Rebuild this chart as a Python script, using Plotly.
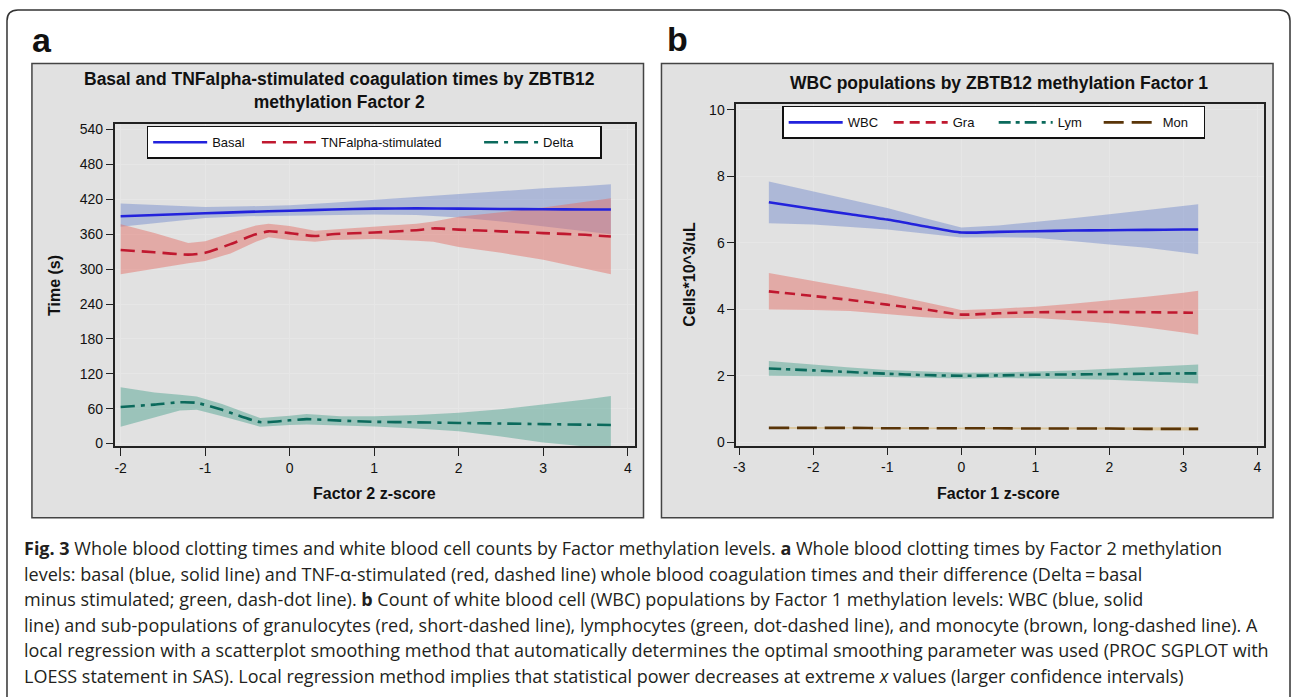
import plotly.graph_objects as go

W, H = 1292, 697

# ---------------- Panel a data (Factor 2 z-score) ----------------
x_basal = [-2.0, -1.5, -1.0, -0.5, 0.0, 0.5, 1.0, 1.5, 2.0, 2.5, 3.0, 3.5, 3.8]
basal = [391, 393.5, 396, 398.5, 400.5, 402.5, 404, 404.5, 404, 403.5, 403, 402.5, 402.5]
basal_hi = [413, 410, 407, 408, 410, 414, 419, 424, 430, 435, 439, 443, 446]
basal_lo = [373, 381, 388, 391, 392, 393, 394, 393, 389, 382, 374, 365, 360]

x_tnf = [-2.0, -1.6, -1.2, -1.0, -0.7, -0.4, -0.25, 0.0, 0.3, 0.5, 1.0, 1.5, 1.7, 2.0, 2.5, 3.0, 3.5, 3.8]
tnf = [333, 329, 325, 328, 343, 360, 365, 362, 357, 360, 363, 367, 370, 368, 365, 362, 359, 356]
tnf_hi = [377, 362, 345, 348, 362, 375, 378, 374, 366, 368, 372, 378, 382, 390, 398, 406, 416, 422]
tnf_lo = [291, 300, 310, 314, 327, 347, 355, 350, 347, 350, 352, 349, 347, 338, 328, 316, 300, 291]

x_delta = [-2.0, -1.6, -1.3, -1.1, -0.8, -0.35, 0.0, 0.2, 0.6, 1.0, 1.5, 2.0, 2.5, 3.0, 3.5, 3.8]
delta = [63, 67, 71, 70, 58, 37, 40, 42, 39.5, 37.5, 36.5, 35.5, 34.5, 33.5, 32.5, 32]
delta_hi = [97, 88, 84, 81, 68, 44, 48, 51, 47, 47, 49, 53, 59, 67, 76, 82]
delta_lo = [29, 45, 57, 58, 47, 29, 32, 33, 31, 29.5, 26, 21, 12, 2, -5, -8]

# ---------------- Panel b data (Factor 1 z-score) ----------------
x_b = [-2.6, -2.0, -1.5, -1.0, -0.5, 0.0, 0.5, 1.0, 1.5, 2.0, 2.5, 3.0, 3.2]
wbc = [7.22, 7.02, 6.86, 6.70, 6.50, 6.31, 6.33, 6.35, 6.37, 6.38, 6.39, 6.40, 6.40]
wbc_hi = [7.85, 7.55, 7.30, 7.05, 6.75, 6.46, 6.52, 6.62, 6.74, 6.86, 6.98, 7.10, 7.16]
wbc_lo = [6.59, 6.55, 6.48, 6.40, 6.28, 6.16, 6.17, 6.15, 6.06, 5.95, 5.85, 5.72, 5.66]
gra = [4.54, 4.40, 4.28, 4.14, 4.00, 3.84, 3.88, 3.91, 3.92, 3.92, 3.91, 3.90, 3.89]
gra_hi = [5.09, 4.85, 4.65, 4.45, 4.22, 3.98, 4.02, 4.08, 4.17, 4.27, 4.38, 4.50, 4.56]
gra_lo = [3.99, 3.98, 3.95, 3.86, 3.76, 3.70, 3.73, 3.74, 3.67, 3.58, 3.45, 3.30, 3.23]
lym = [2.22, 2.16, 2.11, 2.06, 2.02, 2.00, 2.01, 2.03, 2.04, 2.05, 2.06, 2.07, 2.07]
lym_hi = [2.44, 2.33, 2.25, 2.17, 2.12, 2.09, 2.10, 2.12, 2.16, 2.21, 2.26, 2.31, 2.34]
lym_lo = [2.00, 1.99, 1.98, 1.96, 1.93, 1.92, 1.93, 1.92, 1.90, 1.88, 1.84, 1.79, 1.77]
mon = [0.43, 0.43, 0.43, 0.42, 0.42, 0.42, 0.42, 0.41, 0.41, 0.41, 0.40, 0.40, 0.40]
mon_hi = [0.46, 0.45, 0.45, 0.44, 0.44, 0.44, 0.44, 0.44, 0.44, 0.44, 0.44, 0.45, 0.45]
mon_lo = [0.40, 0.41, 0.41, 0.40, 0.40, 0.40, 0.40, 0.39, 0.38, 0.38, 0.36, 0.35, 0.35]

# ---------------- Text ----------------
title_a = "Basal and TNFalpha-stimulated coagulation times by ZBTB12<br>methylation Factor 2"
title_b = "WBC populations by ZBTB12 methylation Factor 1"
xtitle_a = "Factor 2 z-score"
xtitle_b = "Factor 1 z-score"
ytitle_a = "Time (s)"
ytitle_b = "Cells*10^3/uL"
yticks_a = [0, 60, 120, 180, 240, 300, 360, 420, 480, 540]
xticks_a = [-2, -1, 0, 1, 2, 3, 4]
yticks_b = [0, 2, 4, 6, 8, 10]
xticks_b = [-3, -2, -1, 0, 1, 2, 3, 4]
caption_lines = [
    "<b>Fig. 3</b> Whole blood clotting times and white blood cell counts by Factor methylation levels. <b>a</b> Whole blood clotting times by Factor 2 methylation",
    "levels: basal (blue, solid line) and TNF-\u03b1-stimulated (red, dashed line) whole blood coagulation times and their difference (Delta\u2009=\u2009basal",
    "minus stimulated; green, dash-dot line). <b>b</b> Count of white blood cell (WBC) populations by Factor 1 methylation levels: WBC (blue, solid",
    "line) and sub-populations of granulocytes (red, short-dashed line), lymphocytes (green, dot-dashed line), and monocyte (brown, long-dashed line). A",
    "local regression with a scatterplot smoothing method that automatically determines the optimal smoothing parameter was used (PROC SGPLOT with",
    "LOESS statement in SAS). Local regression method implies that statistical power decreases at extreme <i>x</i> values (larger confidence intervals)",
]


def X(px):
    return px / W


def Y(py):
    return 1 - py / H


BLUE, BLUE_F = "#2222dc", "rgba(110,135,205,0.45)"
RED, RED_F = "#c0182f", "rgba(228,105,95,0.45)"
GREEN, GREEN_F = "#0b6a5c", "rgba(70,160,140,0.45)"
BROWN, BROWN_F = "#5a3508", "rgba(215,180,110,0.6)"
NB = "\u00a0"

fig = go.Figure()


def band(x, lo, hi, color, xa, ya):
    fig.add_trace(go.Scatter(
        x=list(x) + list(x)[::-1], y=list(hi) + list(lo)[::-1],
        fill="toself", fillcolor=color, line=dict(width=0), mode="lines",
        showlegend=False, hoverinfo="skip", xaxis=xa, yaxis=ya))


def line(x, y, color, dash, name, xa, ya, legend):
    fig.add_trace(go.Scatter(
        x=x, y=y, mode="lines", name=name,
        line=dict(color=color, width=2.6, dash=dash, shape="spline", smoothing=0.6),
        xaxis=xa, yaxis=ya, legend=legend))


band(x_basal, basal_lo, basal_hi, BLUE_F, "x", "y")
band(x_tnf, tnf_lo, tnf_hi, RED_F, "x", "y")
band(x_delta, delta_lo, delta_hi, GREEN_F, "x", "y")
line(x_basal, basal, BLUE, "solid", "Basal" + NB * 2, "x", "y", "legend")
line(x_tnf, tnf, RED, "14px,7px", "TNFalpha-stimulated" + NB * 9, "x", "y", "legend")
line(x_delta, delta, GREEN, "14px,6px,4px,6px", "Delta" + NB * 6, "x", "y", "legend")

band(x_b, wbc_lo, wbc_hi, BLUE_F, "x2", "y2")
band(x_b, gra_lo, gra_hi, RED_F, "x2", "y2")
band(x_b, lym_lo, lym_hi, GREEN_F, "x2", "y2")
band(x_b, mon_lo, mon_hi, BROWN_F, "x2", "y2")
line(x_b, wbc, BLUE, "solid", "WBC", "x2", "y2", "legend2")
line(x_b, gra, RED, "10px,6px", "Gra", "x2", "y2", "legend2")
line(x_b, lym, GREEN, "12px,5px,4px,5px", "Lym", "x2", "y2", "legend2")
line(x_b, mon, BROWN, "20px,8px", "Mon" + NB * 5, "x2", "y2", "legend2")

FONT = "Liberation Sans, Arial, sans-serif"
axis_common = dict(showline=True, mirror=True, linecolor="#222", linewidth=1.6,
                   ticks="outside", tickcolor="#222", tickwidth=1.2,
                   showgrid=True, gridcolor="#e6e6e6", gridwidth=1, zeroline=False,
                   tickfont=dict(family=FONT, size=14, color="#111"))


def tt(vals):
    return [str(v) for v in vals]


fig.update_layout(
    width=W, height=H, margin=dict(l=0, r=0, t=0, b=0),
    paper_bgcolor="white", plot_bgcolor="white",
    xaxis=dict(domain=[X(112), X(633)], range=[-2.07, 4.08], tickvals=xticks_a, ticktext=tt(xticks_a),
               ticklen=8, anchor="y", **axis_common),
    yaxis=dict(domain=[Y(449), Y(123)], range=[-5, 550], tickvals=yticks_a, ticktext=tt(yticks_a),
               ticklen=7, anchor="x", **axis_common),
    xaxis2=dict(domain=[X(735), X(1264)], range=[-3.04, 4.09], tickvals=xticks_b, ticktext=tt(xticks_b),
                ticklen=8, anchor="y2", **axis_common),
    yaxis2=dict(domain=[Y(448), Y(103)], range=[-0.1, 10.18], tickvals=yticks_b, ticktext=tt(yticks_b),
                ticklen=7, anchor="x2", **axis_common),
    legend=dict(x=X(144), y=Y(125), xanchor="left", yanchor="top", orientation="h",
                bgcolor="white", bordercolor="#111", borderwidth=1.5, itemwidth=54,
                font=dict(family=FONT, size=13, color="#111"), tracegroupgap=0),
    legend2=dict(x=X(781), y=Y(105), xanchor="left", yanchor="top", orientation="h",
                 bgcolor="white", bordercolor="#111", borderwidth=1.5, itemwidth=54,
                 entrywidth=36, entrywidthmode="pixels",
                 font=dict(family=FONT, size=13, color="#111"), tracegroupgap=0),
    showlegend=True,
)

shapes = []
r = 11
path = (f"M {X(4)},{Y(720)} L {X(4)},{Y(8 + r)} Q {X(4)},{Y(8)} {X(4 + r)},{Y(8)} "
        f"L {X(1290 - r)},{Y(8)} Q {X(1290)},{Y(8)} {X(1290)},{Y(8 + r)} L {X(1290)},{Y(720)}")
shapes.append(dict(type="path", path=path, xref="paper", yref="paper", line=dict(color="#333", width=1.5), layer="below"))
for x0, x1 in [(29, 642), (660, 1273)]:
    shapes.append(dict(type="rect", xref="paper", yref="paper", x0=X(x0), x1=X(x1), y0=Y(521), y1=Y(62),
                       fillcolor="#e1e1e1", line=dict(color="#444", width=1.5), layer="below"))
fig.update_layout(shapes=shapes)

ann = []
ann.append(dict(text="<b>a</b>", x=X(27), y=Y(60), xanchor="left", yanchor="bottom",
                font=dict(family=FONT, size=34, color="#111")))
ann.append(dict(text="<b>b</b>", x=X(664), y=Y(59), xanchor="left", yanchor="bottom",
                font=dict(family=FONT, size=34, color="#111")))
ann.append(dict(text=f"<b>{title_a}</b>", x=X(337), y=Y(89), xanchor="center", yanchor="middle",
                font=dict(family=FONT, size=17.5, color="#111")))
ann.append(dict(text=f"<b>{title_b}</b>", x=X(998), y=Y(82), xanchor="center", yanchor="middle",
                font=dict(family=FONT, size=17.5, color="#111")))
ann.append(dict(text=f"<b>{xtitle_a}</b>", x=X(372), y=Y(496), xanchor="center", yanchor="middle",
                font=dict(family=FONT, size=16, color="#111")))
ann.append(dict(text=f"<b>{xtitle_b}</b>", x=X(998), y=Y(496), xanchor="center", yanchor="middle",
                font=dict(family=FONT, size=16, color="#111")))
ann.append(dict(text=f"<b>{ytitle_a}</b>", x=X(51), y=Y(286), xanchor="center", yanchor="middle", textangle=-90,
                font=dict(family=FONT, size=16, color="#111")))
ann.append(dict(text=f"<b>{ytitle_b}</b>", x=X(688), y=Y(275), xanchor="center", yanchor="middle", textangle=-90,
                font=dict(family=FONT, size=16, color="#111")))
for i, t in enumerate(caption_lines):
    ann.append(dict(text=t, x=X(19), y=Y(552 + i * 25.7), xanchor="left", yanchor="middle",
                    font=dict(family="Open Sans, sans-serif", size=18, color="#231f20")))
for a in ann:
    a.update(xref="paper", yref="paper", showarrow=False)
fig.update_layout(annotations=ann)

fig.write_html("out.html", config={"displayModeBar": False},
               post_script="document.body.style.margin='0';document.body.style.padding='0';"
                           "document.documentElement.style.overflow='hidden';")
